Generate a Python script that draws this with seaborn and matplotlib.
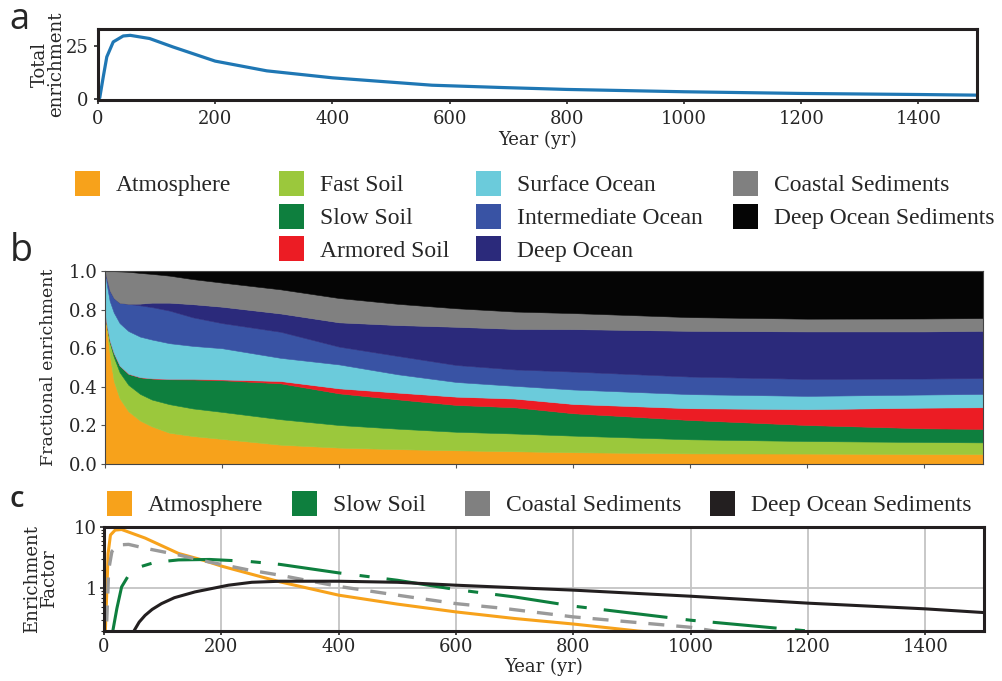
import numpy as np
import pandas as pd
import seaborn as sns
import matplotlib.pyplot as plt
from matplotlib.patches import Patch
from matplotlib.ticker import NullFormatter

# ---------------- data ----------------
# (a) total enrichment over time
total_years = [0, 3, 9, 15, 26, 43, 55, 88, 128, 200, 288, 400, 570, 690, 800, 1000, 1200, 1400, 1500]
total_enrichment = [0, 0.5, 10.4, 19.8, 26.9, 29.7, 30.0, 28.5, 24.5, 17.8, 13.2, 9.9, 6.4, 5.3, 4.4, 3.3, 2.5, 2.0, 1.7]

# (b) fraction of the enrichment held in each reservoir
frac_years = [0, 3, 8, 15, 25, 40, 60, 80, 110, 150, 200, 300, 400, 500, 600, 700, 800, 1000, 1200, 1400, 1500]
atmosphere = [.78, .70, .57, .43, .34, .273, .225, .195, .162, .145, .13, .10, .085, .077, .071, .066, .061, .055, .054, .052, .052]
fast_soil = [0, .02, .06, .125, .135, .137, .138, .139, .148, .143, .14, .132, .117, .106, .096, .092, .086, .073, .065, .062, .06]
slow_soil = [0, 0, .01, .02, .035, .057, .086, .109, .129, .15, .164, .186, .164, .152, .139, .136, .116, .10, .083, .071, .07]
armored_soil = [0, 0, 0, 0, 0, .001, .001, .001, .002, .003, .004, .012, .026, .035, .043, .045, .048, .061, .082, .107, .112]
surface_ocean = [.22, .21, .205, .21, .22, .221, .21, .201, .185, .171, .162, .12, .124, .095, .076, .066, .075, .073, .069, .068, .069]
intermediate_ocean = [0, .03, .055, .075, .105, .141, .162, .168, .169, .148, .13, .135, .092, .095, .088, .085, .093, .091, .088, .083, .082]
deep_ocean = [0, 0, 0, 0, 0, 0, .009, .023, .041, .068, .085, .095, .126, .16, .198, .21, .22, .237, .246, .244, .245]
coastal_sediments = [0, .04, .10, .139, .163, .166, .159, .149, .14, .13, .125, .125, .126, .11, .096, .09, .083, .071, .066, .067, .066]
deep_ocean_sediments = [0, 0, 0, .001, .002, .004, .01, .015, .024, .042, .06, .095, .14, .17, .193, .21, .218, .239, .247, .246, .244]

reservoir_names = ["Atmosphere", "Fast Soil", "Slow Soil", "Armored Soil", "Surface Ocean",
                   "Intermediate Ocean", "Deep Ocean", "Coastal Sediments", "Deep Ocean Sediments"]
reservoir_colors = ["#F7A21B", "#9BC83C", "#0E7F3E", "#EC1C24", "#6BCBDB",
                    "#3953A4", "#2B2A7B", "#808080", "#050505"]

# (c) enrichment factor of selected reservoirs
atm_years = [0, 2.3, 5, 7, 11, 19, 30, 70, 127, 170, 200, 300, 400, 500, 600, 700, 800, 910, 1000]
atm_factor = [0.1, 0.2, 1.0, 3.7, 7.4, 8.9, 9.1, 6.6, 3.7, 2.85, 2.3, 1.27, 0.77, 0.55, 0.41, 0.32, 0.26, 0.2, 0.17]
slow_years = [13, 15, 22, 30, 42, 59, 87, 127, 180, 245, 300, 400, 500, 600, 700, 800, 1000, 1200, 1250]
slow_factor = [0.15, 0.2, 0.47, 1.05, 1.63, 2.2, 2.65, 2.9, 2.95, 2.75, 2.45, 1.78, 1.35, 0.95, 0.72, 0.51, 0.3, 0.2, 0.18]
coast_years = [2, 4, 8, 13.5, 25, 42, 70, 127, 170, 245, 300, 400, 500, 600, 680, 800, 1000, 1040, 1100]
coast_factor = [0.1, 0.2, 2.0, 4.0, 5.1, 5.2, 4.5, 3.5, 2.8, 2.0, 1.63, 1.07, 0.77, 0.56, 0.47, 0.34, 0.23, 0.2, 0.17]
dos_years = [45, 51, 60, 70, 82, 98, 120, 155, 212, 252, 300, 400, 500, 600, 700, 800, 1000, 1200, 1400, 1500]
dos_factor = [0.15, 0.2, 0.28, 0.36, 0.45, 0.56, 0.7, 0.87, 1.12, 1.25, 1.3, 1.3, 1.25, 1.12, 1.02, 0.93, 0.74, 0.57, 0.46, 0.40]

# ---------------- styling ----------------
sns.set_theme(style="ticks")
plt.rcParams["font.family"] = ["DejaVu Serif"]
plt.rcParams["axes.edgecolor"] = "#231F20"

W, H = 1003, 681
fig = plt.figure(figsize=(W / 100, H / 100), dpi=100)


def box(x0, y0, x1, y1):
    return [x0 / W, 1 - y1 / H, (x1 - x0) / W, (y1 - y0) / H]


tick_fs = 13
xticks = list(range(0, 1401, 200))
legend_font = {"family": "Liberation Serif", "size": 17}
square = dict(frameon=False, borderpad=0, borderaxespad=0, handlelength=1.06,
              handleheight=1.25, handletextpad=0.68, prop=legend_font)

# ---------------- panel a ----------------
ax_a = fig.add_axes(box(98, 29, 977, 100))
sns.lineplot(x=total_years, y=total_enrichment, ax=ax_a, color="#1F77B4", lw=2.3)
ax_a.set_xlim(0, 1500)
ax_a.set_ylim(-0.6, 33)
ax_a.set_yticks([0, 25])
ax_a.set_xticks(xticks)
ax_a.tick_params(labelsize=tick_fs, length=3, width=1.2, pad=4)
for s in ax_a.spines.values():
    s.set_linewidth(2.2)
ax_a.set_xlabel("Year (yr)", fontsize=tick_fs, labelpad=2)
ax_a.set_ylabel("Total\nenrichment", fontsize=tick_fs, linespacing=0.9)
ax_a.yaxis.set_label_coords(-0.037, 0.5)

# ---------------- panel b ----------------
ax_b = fig.add_axes(box(105, 271, 983, 464))
polys = ax_b.stackplot(frac_years, atmosphere, fast_soil, slow_soil, armored_soil,
                       surface_ocean, intermediate_ocean, deep_ocean,
                       coastal_sediments, deep_ocean_sediments,
                       colors=reservoir_colors, labels=reservoir_names)
for p in polys:
    p.set_edgecolor(p.get_facecolor())
    p.set_linewidth(0.4)
ax_b.set_xlim(0, 1500)
ax_b.set_ylim(0, 1)
ax_b.set_xticks(xticks)
ax_b.set_xticklabels([])
ax_b.set_yticks(np.arange(0, 1.01, 0.2))
ax_b.set_yticklabels([f"{v:.1f}" for v in np.arange(0, 1.01, 0.2)])
ax_b.tick_params(labelsize=tick_fs, length=3, width=0.8, pad=2, color="#555555")
for s in ax_b.spines.values():
    s.set_linewidth(0.8)
    s.set_color("#444444")
ax_b.set_ylabel("Fractional enrichment", fontsize=12.5)
ax_b.yaxis.set_label_coords(-0.055, 0.5)

# legend for panel b, arranged in four columns
columns = [(0, 1, 75), (1, 4, 279), (4, 7, 476), (7, 9, 733)]
for i0, i1, xpx in columns:
    handles = [Patch(facecolor=c, edgecolor="none") for c in reservoir_colors[i0:i1]]
    fig.legend(handles, reservoir_names[i0:i1], loc="upper left",
               bbox_to_anchor=(xpx / W, 1 - 171 / H), bbox_transform=fig.transFigure,
               labelspacing=0.31, **square)

# ---------------- panel c ----------------
ax_c = fig.add_axes(box(104, 527, 984, 631))
ax_c.set_axisbelow(True)
ax_c.grid(True, which="major", color="#C4C4C4", lw=1.3)
c_orange, c_green, c_gray, c_black = "#F7A21B", "#0E7F3E", "#9A9A9A", "#231F20"
sns.lineplot(x=atm_years, y=atm_factor, ax=ax_c, color=c_orange, lw=2.2)
sns.lineplot(x=slow_years, y=slow_factor, ax=ax_c, color=c_green, lw=2.2)
ax_c.lines[-1].set_dashes([21, 6, 3.3, 5.6])
sns.lineplot(x=coast_years, y=coast_factor, ax=ax_c, color=c_gray, lw=2.4)
ax_c.lines[-1].set_dashes([4.8, 3.6])
sns.lineplot(x=dos_years, y=dos_factor, ax=ax_c, color=c_black, lw=2.2)
ax_c.set_yscale("log")
ax_c.set_xlim(0, 1500)
ax_c.set_ylim(0.2, 10)
ax_c.set_xticks(xticks)
ax_c.set_yticks([1, 10])
ax_c.set_yticklabels(["1", "10"])
ax_c.yaxis.set_minor_formatter(NullFormatter())
ax_c.tick_params(labelsize=tick_fs, length=3, width=1.2, pad=2)
ax_c.tick_params(which="minor", length=2, width=0.8)
for s in ax_c.spines.values():
    s.set_linewidth(2.2)
ax_c.set_xlabel("Year (yr)", fontsize=tick_fs, labelpad=1)
ax_c.set_ylabel("Enrichment\nFactor", fontsize=tick_fs, linespacing=0.95)
ax_c.yaxis.set_label_coords(-0.052, 0.5)

# legend for panel c, one entry per position along the row
c_entries = [("Atmosphere", c_orange, 107), ("Slow Soil", c_green, 292),
             ("Coastal Sediments", "#808080", 465), ("Deep Ocean Sediments", c_black, 710)]
for label, color, xpx in c_entries:
    fig.legend([Patch(facecolor=color, edgecolor="none")], [label], loc="upper left",
               bbox_to_anchor=(xpx / W, 1 - 491 / H), bbox_transform=fig.transFigure, **square)

# ---------------- panel letters ----------------
letter_font = ["Open Sans", "DejaVu Sans"]
fig.text(9 / W, 1 - 29 / H, "a", fontsize=26, family=letter_font, va="baseline")
fig.text(10 / W, 1 - 261 / H, "b", fontsize=27, family=letter_font, va="baseline")
fig.text(10 / W, 1 - 507 / H, "c", fontsize=21, family=letter_font, weight="semibold", va="baseline")

fig.savefig("out.png", dpi=100)
